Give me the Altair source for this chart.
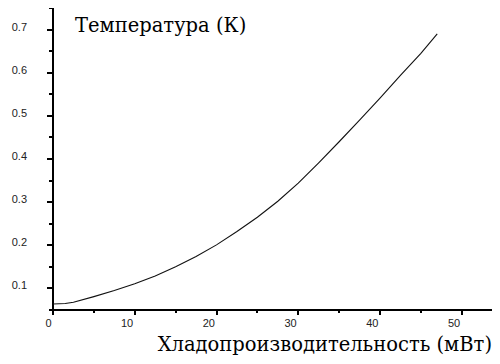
import altair as alt
import pandas as pd

# values
power_mw = [0, 1.5, 2.5, 5, 7.5, 10, 12.5, 15, 17.5, 20, 22.5, 25, 27.5, 30, 32.5, 35, 37.5, 40, 42.5, 45, 47]
temp_k = [0.064, 0.065, 0.068, 0.081, 0.095, 0.111, 0.129, 0.150, 0.174, 0.201, 0.232, 0.265, 0.302, 0.344, 0.391, 0.440, 0.490, 0.541, 0.594, 0.645, 0.690]

x_ticks = [0, 5, 10, 15, 20, 25, 30, 35, 40, 45, 50]
y_ticks = [0.05, 0.1, 0.15, 0.2, 0.25, 0.3, 0.35, 0.4, 0.45, 0.5, 0.55, 0.6, 0.65, 0.7, 0.75]

x_title = "Хладопроизводительность (мВт)"
y_title = "Температура (К)"

SERIF = "DejaVu Serif"
SANS = "Liberation Sans"

df = pd.DataFrame({"p": power_mw, "t": temp_k})

major_y = "abs(datum.value*10 - round(datum.value*10)) < 0.001"
major_x = "datum.value % 10 == 0"

chart = alt.Chart(df).mark_line(color="#111", strokeWidth=1.1).encode(
    x=alt.X("p:Q",
            scale=alt.Scale(domain=[0, 53.7], nice=False, zero=False),
            axis=alt.Axis(
                values=x_ticks, title=x_title, grid=False, translate=0,
                domainColor="black", domainWidth=2,
                tickColor="black", tickWidth=2,
                tickSize=alt.condition(major_x, alt.value(5), alt.value(3)),
                labelExpr=f"{major_x} ? datum.label : ''",
                labelFont=SANS, labelFontSize=11, labelColor="#222",
                labelAlign="right", labelOffset=-1.5, labelPadding=3,
                labelBaseline="top", labelOverlap=False, labelFlush=False,
                titleFont=SERIF, titleFontSize=19.5, titleFontWeight="normal",
                titleColor="black", titleAnchor="end", titleAlign="right",
                titleX=439, titleY=41, titleBaseline="alphabetic",
            )),
    y=alt.Y("t:Q",
            scale=alt.Scale(domain=[0.05, 0.75], nice=False, zero=False),
            axis=alt.Axis(
                values=y_ticks, title=y_title, grid=False, translate=0,
                domainColor="black", domainWidth=2,
                tickColor="black", tickWidth=2,
                tickSize=alt.condition(major_y, alt.value(6), alt.value(4)),
                labelExpr=f"{major_y} ? format(datum.value, '.1f') : ''",
                labelFont=SANS, labelFontSize=11, labelColor="#222",
                labelPadding=20, labelOffset=-2, labelOverlap=False, labelFlush=False,
                titleFont=SERIF, titleFontSize=19.5, titleFontWeight="normal",
                titleColor="black", titleAngle=0, titleAlign="left",
                titleBaseline="alphabetic", titleX=22, titleY=24,
            )),
).properties(
    width=439, height=302,
    autosize=alt.AutoSizeParams(type="none"),
    padding={"left": 45, "top": 0, "right": 0, "bottom": 46},
).configure_view(stroke=None)

chart.save("out.html", embed_options={"renderer": "svg", "actions": False})
